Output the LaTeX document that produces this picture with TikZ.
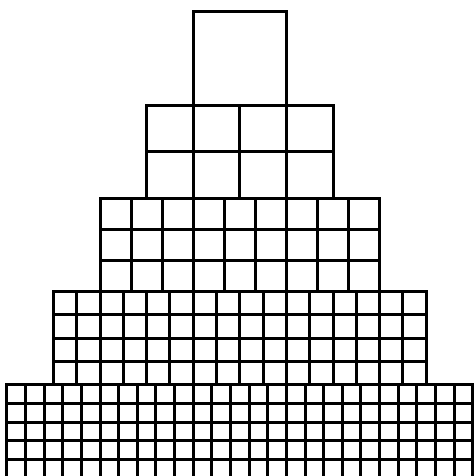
\documentclass[tikz,border=0pt]{standalone}
\usepackage{tikz}
\tikzset{
  gridline/.style={line width=1.5pt, black, line cap=rect},
  layerbox/.style={line width=1.5pt, black, line join=miter},
}
\begin{document}
\begin{tikzpicture}[x=0.5pt,y=-0.5pt]
  \useasboundingbox (0,0) rectangle (473,476);

  % layer n: n units wide, one unit high, cells of size 1/n
  \foreach \n in {1,...,5}{
    \pgfmathsetmacro\lx{239.8-\n*46.6}
    \pgfmathsetmacro\ty{12+(\n-1)*93.2}
    \pgfmathsetmacro\cw{93.2/\n}
    \pgfmathsetmacro\rx{\lx+\n*93.2}
    \pgfmathsetmacro\by{\ty+93.2}
    \pgfmathtruncatemacro\cols{\n*\n}
    \foreach \i in {1,...,\cols}{
      \draw[gridline] (\lx+\i*\cw,\ty) -- (\lx+\i*\cw,\by);
    }
    \foreach \j in {1,...,\n}{
      \draw[gridline] (\lx,\ty+\j*\cw) -- (\rx,\ty+\j*\cw);
    }
    \draw[layerbox] (\lx,\ty) rectangle (\rx,\by);
  }
\end{tikzpicture}
\end{document}
